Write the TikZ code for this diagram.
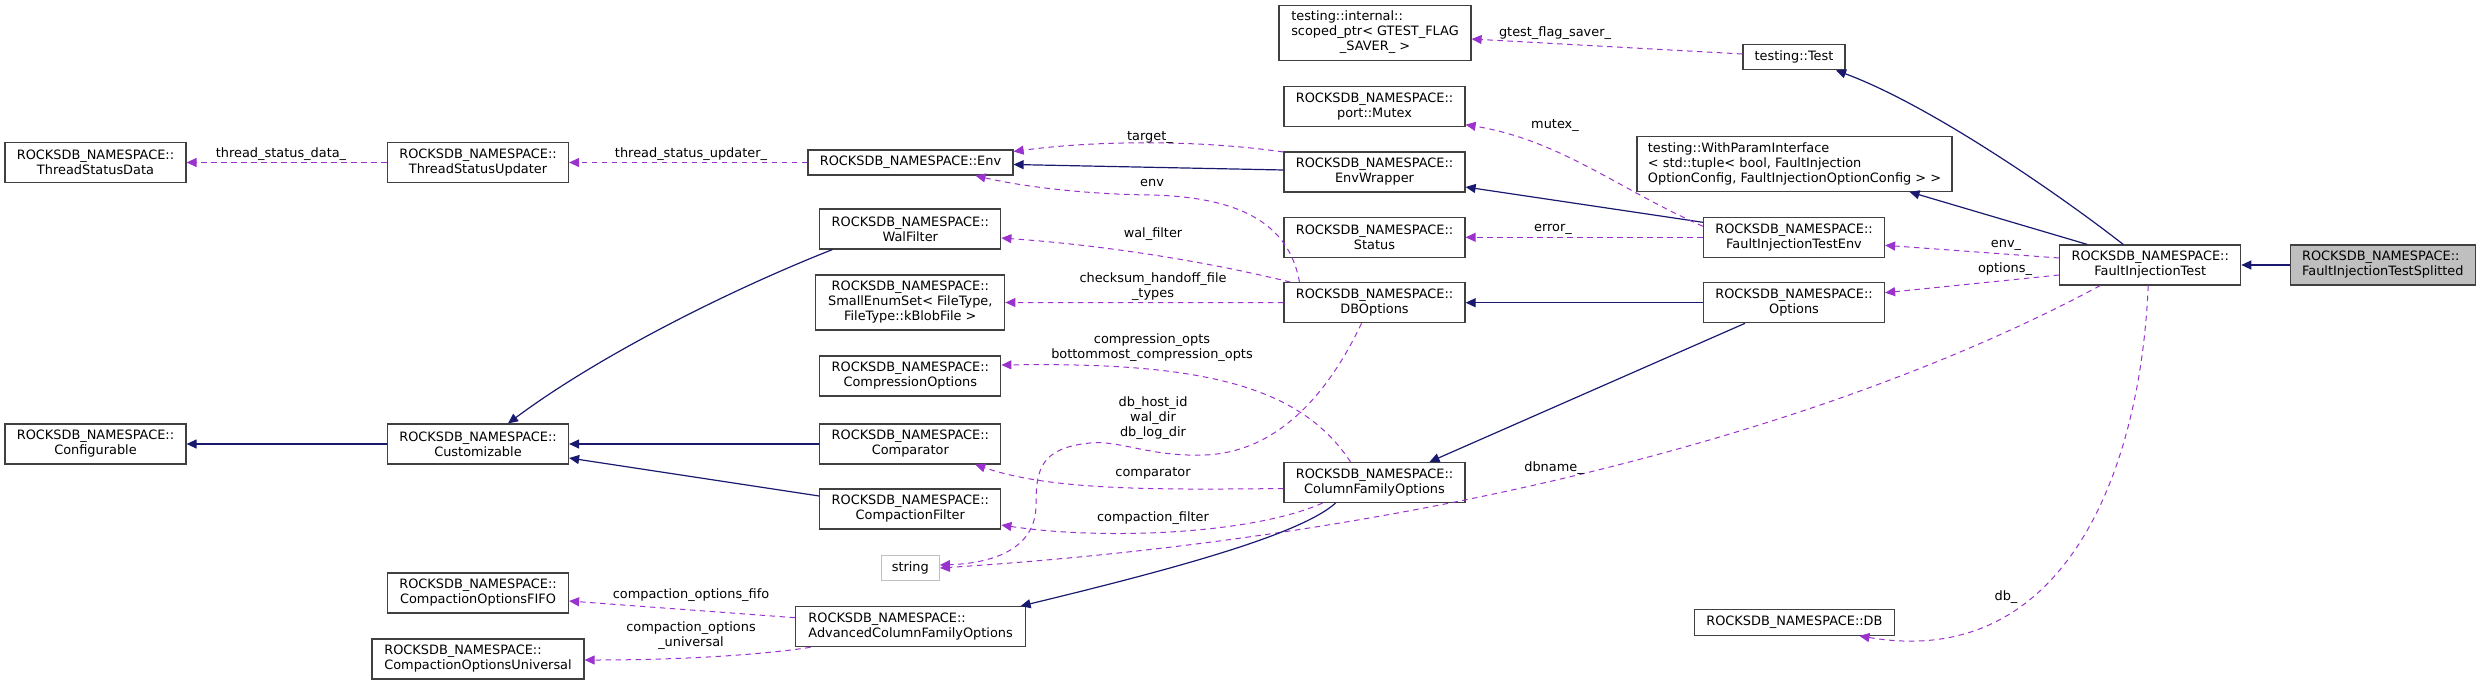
\documentclass[tikz,border=0pt]{standalone}
\usepackage{fontspec}
\setmainfont{DejaVu Sans}
\usetikzlibrary{arrows.meta}
\definecolor{dxnavy}{RGB}{25,25,112}
\definecolor{dxorchid}{RGB}{154,50,205}
\definecolor{dxframe}{RGB}{64,64,64}
\definecolor{dxgrey}{RGB}{191,191,191}

\begin{document}
\begin{tikzpicture}[x=1pt,y=-1pt,
    box/.style={draw=dxframe, line width=1.2pt, fill=white, inner sep=0pt,
                minimum width=181pt, minimum height=40pt, align=center,
                font=\fontsize{12.9}{15}\selectfont},
    lbl/.style={inner sep=0pt, align=center, font=\fontsize{12.9}{15}\selectfont},
    inh/.style={-{Triangle[length=10pt,width=9pt]}, line width=1.2pt, dxnavy},
    use/.style={-{Triangle[length=10pt,width=9pt]}, line width=1pt, dxorchid,
                dash pattern=on 5.5pt off 4.5pt}
]
\useasboundingbox (0,0) rectangle (2481,685);

\node[box] (tsd) at (95.5,162.5) {ROCKSDB\_NAMESPACE::\\ThreadStatusData};
\node[box] (tsu) at (478,162.5) {ROCKSDB\_NAMESPACE::\\ThreadStatusUpdater};
\node[box, minimum width=205pt, minimum height=25pt] (env) at (910.5,162.5) {ROCKSDB\_NAMESPACE::Env};
\node[box] (conf) at (95.5,444) {ROCKSDB\_NAMESPACE::\\Configurable};
\node[box] (cust) at (478,444) {ROCKSDB\_NAMESPACE::\\Customizable};
\node[box] (cofifo) at (478,593) {ROCKSDB\_NAMESPACE::\\CompactionOptionsFIFO};
\node[box, minimum width=212pt, align=left] (couniv) at (478,659) {ROCKSDB\_NAMESPACE::\\CompactionOptionsUniversal};

\node[box] (walf) at (910.3,229) {ROCKSDB\_NAMESPACE::\\WalFilter};
\node[box, minimum width=189pt, minimum height=55pt] (smallenum) at (910.3,302.5) {ROCKSDB\_NAMESPACE::\\SmallEnumSet< FileType,\\FileType::kBlobFile >};
\node[box] (compr) at (910.3,376) {ROCKSDB\_NAMESPACE::\\CompressionOptions};
\node[box] (cmp) at (910.3,444) {ROCKSDB\_NAMESPACE::\\Comparator};
\node[box] (cfilt) at (910.3,509) {ROCKSDB\_NAMESPACE::\\CompactionFilter};
\node[box, draw=dxgrey, minimum width=58pt, minimum height=25.5pt] (str) at (910.3,568) {string};
\node[box, minimum width=230pt, align=left] (acfo) at (910.6,626.7) {ROCKSDB\_NAMESPACE::\\AdvancedColumnFamilyOptions};

\node[box, minimum width=192pt, minimum height=55pt] (scoped) at (1375,33) {\begin{tabular}{@{}l@{}}testing::internal::\\scoped\_ptr< GTEST\_FLAG\\\multicolumn{1}{@{}c@{}}{\_SAVER\_ >}\end{tabular}};
\node[box] (mutex) at (1374.5,106.7) {ROCKSDB\_NAMESPACE::\\port::Mutex};
\node[box] (envwrap) at (1374.5,172) {ROCKSDB\_NAMESPACE::\\EnvWrapper};
\node[box] (status) at (1374.5,237.3) {ROCKSDB\_NAMESPACE::\\Status};
\node[box] (dbopt) at (1374.5,302.7) {ROCKSDB\_NAMESPACE::\\DBOptions};
\node[box] (cfo) at (1374.5,482.5) {ROCKSDB\_NAMESPACE::\\ColumnFamilyOptions};

\node[box, minimum width=102pt, minimum height=25.5pt] (test) at (1794,57) {testing::Test};
\node[box, minimum width=315pt, minimum height=55pt, align=left] (wpi) at (1794.5,163.8) {testing::WithParamInterface\\< std::tuple< bool, FaultInjection\\OptionConfig, FaultInjectionOptionConfig > >};
\node[box] (fitenv) at (1794,237.3) {ROCKSDB\_NAMESPACE::\\FaultInjectionTestEnv};
\node[box] (options) at (1794,302.7) {ROCKSDB\_NAMESPACE::\\Options};
\node[box, minimum width=200pt, minimum height=25.5pt] (db) at (1794.4,622.5) {ROCKSDB\_NAMESPACE::DB};
\node[box] (fit) at (2150.2,265) {ROCKSDB\_NAMESPACE::\\FaultInjectionTest};
\node[box, fill=dxgrey, minimum width=185pt, align=left] (fits) at (2382.8,265) {ROCKSDB\_NAMESPACE::\\FaultInjectionTestSplitted};

\draw[inh] (fits.west) -- (fit.east);
\draw[inh] ([xshift=-27pt]fit.north) .. controls (2060,195) and (1930,105) .. ([xshift=42pt]test.south);
\draw[inh] ([xshift=-63pt]fit.north) -- ([xshift=115pt]wpi.south);
\draw[use] ([yshift=7pt]fit.west) -- ([yshift=-8pt]fitenv.east);
\draw[use] ([yshift=-10pt]fit.west) -- ([yshift=10pt]options.east);
\draw[use] ([xshift=-50pt]fit.south) .. controls (1850,420) and (1450,535) .. (str.east);
\draw[use] ([xshift=-2pt]fit.south) .. controls (2140,480) and (2060,670) .. ([xshift=65pt]db.south);
\draw[use] ([yshift=3pt]test.west) -- ([yshift=-6pt]scoped.east);
\draw[inh] ([yshift=15pt]fitenv.west) -- ([yshift=-15pt]envwrap.east);
\draw[use] ([yshift=11pt]fitenv.west) .. controls (1620,190) and (1560,140) .. ([yshift=-18pt]mutex.east);
\draw[use] (fitenv.west) -- (status.east);
\draw[inh] (options.west) -- (dbopt.east);
\draw[inh] ([xshift=-49pt]options.south) -- ([xshift=55pt]cfo.north);
\draw[inh] ([yshift=2pt]envwrap.west) -- ([yshift=-2pt]env.east);
\draw[use] ([yshift=20pt]envwrap.west) .. controls (1200,140) and (1100,140) .. ([yshift=11pt]env.east);
\draw[use] (env.west) -- (tsu.east);
\draw[use] (tsu.west) -- (tsd.east);
\draw[inh] (cust.west) -- (conf.east);
\draw[inh] ([xshift=-78pt]walf.south) .. controls (730,290) and (600,355) .. ([xshift=30pt]cust.north);
\draw[inh] (cmp.west) -- (cust.east);
\draw[inh] ([yshift=13pt]cfilt.west) -- ([yshift=-14pt]cust.east);
\draw[use] ([xshift=-75pt]dbopt.north) .. controls (1290,230) and (1250,197) .. (1150,195)
    .. controls (1080,194) and (1020,186) .. ([xshift=65pt]env.south);
\draw[use] ([xshift=-84pt]dbopt.north) .. controls (1200,260) and (1100,245) .. ([yshift=-9pt]walf.east);
\draw[use] (dbopt.west) -- (smallenum.east);
\draw[use] ([xshift=-13pt]dbopt.south) .. controls (1330,390) and (1280,452) .. (1205,455)
    .. controls (1150,457) and (1120,440) .. (1090,443)
    .. controls (1040,448) and (1036,470) .. (1036,505)
    .. controls (1036,545) and (1000,563) .. ([yshift=3pt]str.east);
\draw[use] ([xshift=-24pt]cfo.north) .. controls (1300,385) and (1200,362) .. ([yshift=11pt]compr.east);
\draw[use] ([yshift=-6pt]cfo.west) .. controls (1150,490) and (1050,490) .. ([xshift=65pt]cmp.south);
\draw[use] ([xshift=-52pt]cfo.south) .. controls (1250,535) and (1100,540) .. ([yshift=-16pt]cfilt.east);
\draw[inh] ([xshift=-39pt]cfo.south) .. controls (1300,535) and (1170,570) .. ([xshift=110pt]acfo.north);
\draw[use] ([yshift=9pt]acfo.west) -- ([yshift=-8pt]cofifo.east);
\draw[use] ([xshift=-100pt]acfo.south) .. controls (760,655) and (680,660) .. ([yshift=-1pt]couniv.east);

\node[lbl] (l-tsd) at (281,154) {thread\_status\_data\_};
\node[lbl] (l-tsu) at (691,154) {thread\_status\_updater\_};
\node[lbl] (l-target) at (1150,137) {target\_};
\node[lbl] (l-env) at (1152,183) {env};
\node[lbl] (l-walf) at (1153,234) {wal\_filter};
\node[lbl] (l-cksum) at (1153,287) {checksum\_handoff\_file\\\_types};
\node[lbl] (l-compr) at (1152,348) {compression\_opts\\bottommost\_compression\_opts};
\node[lbl] (l-dirs) at (1153,418) {db\_host\_id\\wal\_dir\\db\_log\_dir};
\node[lbl] (l-cmp) at (1153,473) {comparator};
\node[lbl] (l-cfilt) at (1153,518) {compaction\_filter};
\node[lbl] (l-gtest) at (1555,33) {gtest\_flag\_saver\_};
\node[lbl] (l-mutex) at (1555,125) {mutex\_};
\node[lbl] (l-error) at (1553,229) {error\_};
\node[lbl] (l-dbname) at (1554,468) {dbname\_};
\node[lbl] (l-envu) at (2006,245) {env\_};
\node[lbl] (l-opts) at (2005,269) {options\_};
\node[lbl] (l-db) at (2006,597) {db\_};
\node[lbl] (l-fifo) at (691,595) {compaction\_options\_fifo};
\node[lbl] (l-univ) at (691,636) {compaction\_options\\\_universal};
\end{tikzpicture}
\end{document}
